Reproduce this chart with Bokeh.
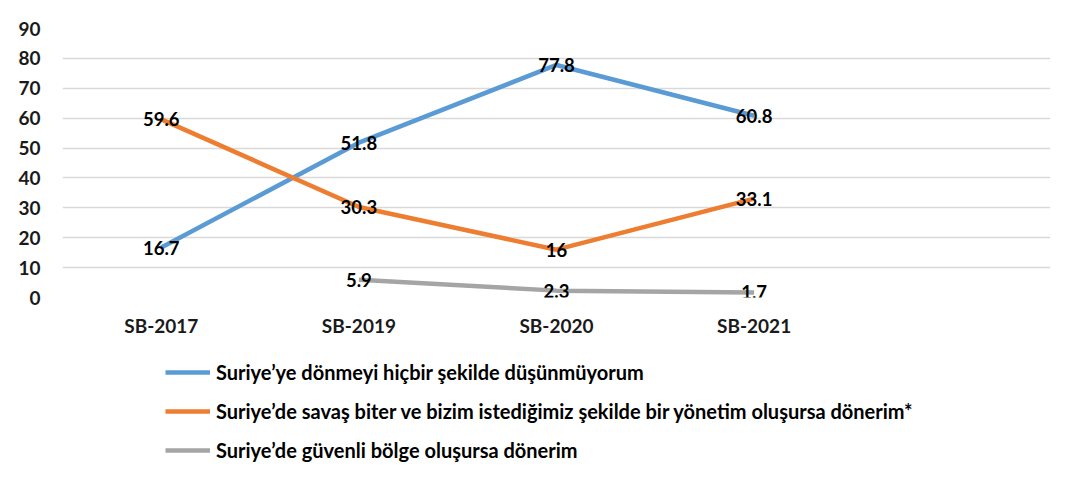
from bokeh.plotting import figure
from bokeh.models import ColumnDataSource, Range1d, FixedTicker, Legend, LegendItem
from bokeh.layouts import column
from bokeh.core.properties import value
from bokeh.embed import file_html
from bokeh.resources import INLINE

categories = ["SB-2017", "SB-2019", "SB-2020", "SB-2021"]
series_names = [
    "Suriye’ye dönmeyi hiçbir şekilde düşünmüyorum",
    "Suriye’de savaş biter ve bizim istediğimiz şekilde bir yönetim oluşursa dönerim*",
    "Suriye’de güvenli bölge oluşursa dönerim",
]
never_return = [16.7, 51.8, 77.8, 60.8]
return_if_war_ends = [59.6, 30.3, 16, 33.1]
return_if_safe_zone = [None, 5.9, 2.3, 1.7]
label_texts = [
    ["16.7", "51.8", "77.8", "60.8"],
    ["59.6", "30.3", "16", "33.1"],
    ["", "5.9", "2.3", "1.7"],
]
y_ticks = [0, 10, 20, 30, 40, 50, 60, 70, 80, 90]
colors = ["#5B9BD5", "#ED7D31", "#A5A5A5"]

FONT = "Lato"
W = 1076
H1, H2 = 340, 144

p = figure(width=W, height=H1, output_backend="svg", toolbar_location=None,
           x_range=Range1d(0, 5), y_range=Range1d(0, 90),
           min_border_left=62, min_border_right=W - 1050, min_border_top=28,
           min_border_bottom=H1 - 297)
p.outline_line_color = None
p.background_fill_color = "white"
p.border_fill_color = "white"

xs = [i + 0.5 for i in range(len(categories))]

p.xaxis.ticker = FixedTicker(ticks=xs)
p.xaxis.major_label_overrides = {x: c for x, c in zip(xs, categories)}
p.yaxis.ticker = FixedTicker(ticks=y_ticks)
for ax in (p.xaxis[0], p.yaxis[0]):
    ax.axis_line_color = None
    ax.major_tick_line_color = None
    ax.minor_tick_line_color = None
    ax.major_label_text_font = FONT
    ax.major_label_text_font_style = "bold"
    ax.major_label_text_font_size = "19px"
    ax.major_label_text_color = "#1a1a1a"
p.yaxis.major_label_standoff = 16
p.xaxis.major_label_standoff = 10
p.xgrid.grid_line_color = None
p.ygrid.grid_line_color = "#D9D9D9"
p.ygrid.grid_line_width = 1.5

all_series = [never_return, return_if_war_ends, return_if_safe_zone]
for vals, col in zip(all_series, colors):
    yv = [float("nan") if v is None else v for v in vals]
    src = ColumnDataSource(dict(x=xs, y=yv))
    p.line("x", "y", source=src, line_color=col, line_width=4.5)
for vals, labs in zip(all_series, label_texts):
    yv = [float("nan") if v is None else v for v in vals]
    src = ColumnDataSource(dict(x=xs, y=yv, t=labs))
    p.text("x", "y", text="t", source=src, text_align="center",
           text_baseline="middle", text_font=value(FONT),
           text_font_style="bold", text_font_size="18.5px", text_color="black")

# legend panel: a separate figure holding only the legend (its renderers draw nothing)
p2 = figure(width=W, height=H2, output_backend="svg", toolbar_location=None,
            x_range=Range1d(0, 1), y_range=Range1d(0, 1),
            x_axis_type=None, y_axis_type=None,
            min_border_left=0, min_border_right=0, min_border_top=0, min_border_bottom=0)
p2.outline_line_color = None
p2.grid.grid_line_color = None
p2.border_fill_color = "white"
leg_renderers = [p2.line(x=[float("nan")], y=[float("nan")], line_color=c, line_width=4.5)
                 for c in colors]

legend = Legend(items=[LegendItem(label=n, renderers=[r]) for n, r in zip(series_names, leg_renderers)],
                location=(103, 22), orientation="vertical",
                glyph_width=45, glyph_height=24, label_height=24,
                label_standoff=6, spacing=15, padding=0, margin=0,
                border_line_color=None, background_fill_alpha=0,
                label_text_font=FONT, label_text_font_style="bold",
                label_text_font_size="20px", label_text_color="black")
p2.add_layout(legend, "center")

layout = column(p, p2, spacing=0)
open("out.html", "w").write(file_html(layout, INLINE))
